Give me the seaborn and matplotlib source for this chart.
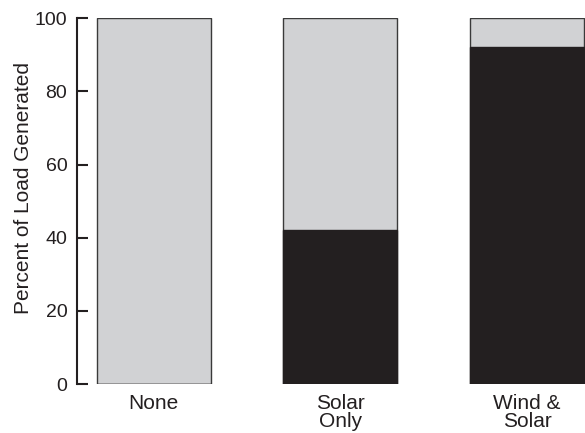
import pandas as pd
import matplotlib.pyplot as plt
import seaborn as sns

# dados
cenarios = ["None", "Solar\nOnly", "Wind &\nSolar"]
gerado = [0, 42, 92]
total = [100, 100, 100]

df = pd.DataFrame({"cenario": cenarios, "gerado": gerado, "total": total})

sns.set_style("ticks")
plt.rcParams["font.family"] = ["Liberation Sans", "DejaVu Sans"]

fig = plt.figure(figsize=(5.85, 4.33), dpi=100)
ax = fig.add_axes([0.1316, 0.113, 0.8684, 0.845])

sns.barplot(data=df, x="cenario", y="total", color="#d1d2d4",
            edgecolor="#3a3a3a", linewidth=1, width=0.61, saturation=1, ax=ax)
sns.barplot(data=df, x="cenario", y="gerado", color="#231f20",
            edgecolor="#231f20", linewidth=1, width=0.61, saturation=1, ax=ax)

ax.set_xlim(-0.41, 2.31)
ax.set_ylim(0, 100)
ax.set_yticks([0, 20, 40, 60, 80, 100])
ax.tick_params(axis="y", direction="in", length=8, width=1.5, labelsize=14, pad=7, colors="#231f20")
ax.tick_params(axis="x", length=0, labelsize=15, pad=7, colors="#231f20")
for lbl in ax.get_xticklabels():
    lbl.set_linespacing(0.95)
for s in ["top", "right", "bottom"]:
    ax.spines[s].set_visible(False)
ax.spines["left"].set_linewidth(1.5)
ax.spines["left"].set_color("#231f20")
ax.set_xlabel("")
ax.set_ylabel("Percent of Load Generated", fontsize=15, color="#231f20")
ax.yaxis.set_label_coords(-0.087, 0.535)

plt.savefig("out.png", dpi=100)
plt.close()
